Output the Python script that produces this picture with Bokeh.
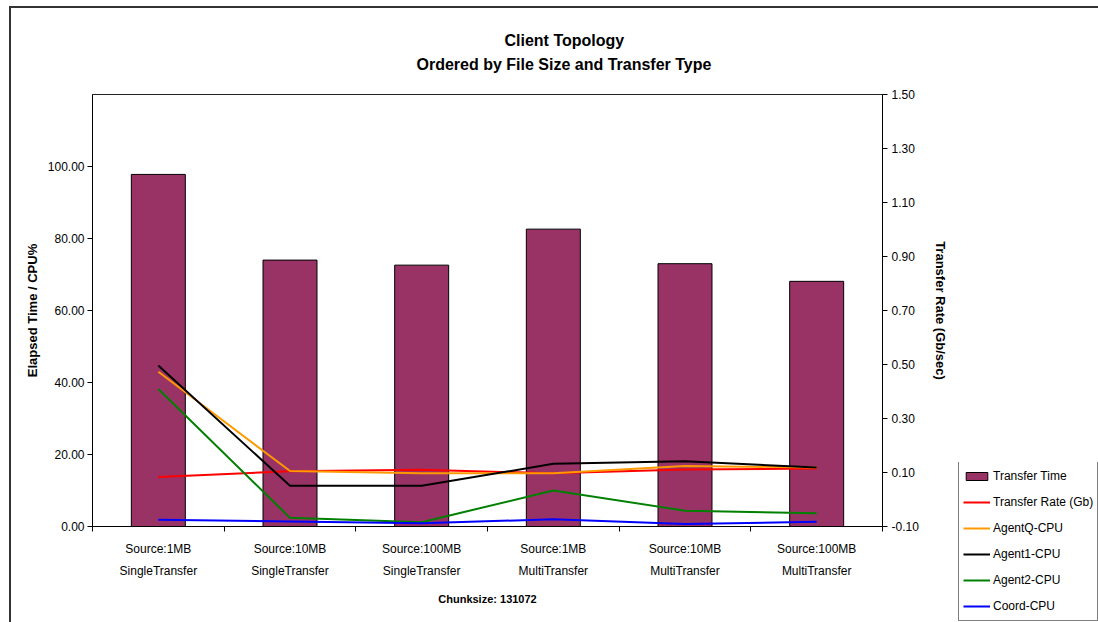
from bokeh.plotting import figure
from bokeh.layouts import row, column
from bokeh.models import (Range1d, LinearAxis, FixedTicker, NumeralTickFormatter,
                          Legend, LegendItem, Title, Spacer)
from bokeh.embed import file_html
from bokeh.resources import INLINE

# ---------------- data ----------------
categories = ["Source:1MB\nSingleTransfer", "Source:10MB\nSingleTransfer", "Source:100MB\nSingleTransfer",
              "Source:1MB\nMultiTransfer", "Source:10MB\nMultiTransfer", "Source:100MB\nMultiTransfer"]
transfer_time = [97.8, 74.0, 72.6, 82.6, 73.0, 68.1]          # left axis
transfer_rate = [0.083, 0.105, 0.110, 0.097, 0.111, 0.115]    # right axis (Gb/sec)
agentq_cpu = [43.0, 15.4, 14.8, 14.8, 16.8, 16.4]
agent1_cpu = [44.7, 11.3, 11.3, 17.4, 18.1, 16.4]
agent2_cpu = [38.2, 2.4, 1.2, 10.0, 4.4, 3.7]
coord_cpu = [1.9, 1.4, 0.9, 2.0, 0.7, 1.3]
left_ticks = [0, 20, 40, 60, 80, 100]
right_ticks = [-0.1, 0.1, 0.3, 0.5, 0.7, 0.9, 1.1, 1.3, 1.5]
series_names = ["Transfer Time", "Transfer Rate (Gb)", "AgentQ-CPU", "Agent1-CPU", "Agent2-CPU", "Coord-CPU"]

FONT = "Liberation Sans"
BAR_COLOR = "#993366"
LINE_COLORS = ["#FF0000", "#FF9900", "#000000", "#008000", "#0000FF"]
n = len(categories)
centers = [i + 0.5 for i in range(n)]
bounds = [i for i in range(n + 1)]

p = figure(width=939, height=614, output_backend="svg", toolbar_location=None,
           x_range=Range1d(0, n), y_range=Range1d(0, 120),
           min_border_left=81, min_border_right=64, min_border_top=86, min_border_bottom=96,
           x_axis_type=None, y_axis_type=None)
p.extra_y_ranges = {"rate": Range1d(-0.1, 1.5)}
p.xgrid.visible = False
p.ygrid.visible = False
p.outline_line_color = "#222222"
p.outline_line_width = 1
p.background_fill_color = "white"
p.border_fill_color = "white"

# bottom axis
xaxis = LinearAxis(ticker=FixedTicker(ticks=centers, minor_ticks=bounds),
                   major_label_overrides={c: lab for c, lab in zip(centers, categories)},
                   axis_label="Chunksize: 131072")
xaxis.major_tick_line_color = None
xaxis.major_tick_out = 5
xaxis.major_tick_in = 0
xaxis.minor_tick_out = 5
xaxis.minor_tick_in = 0
xaxis.minor_tick_line_color = "black"
xaxis.axis_line_color = "black"
xaxis.major_label_text_font = FONT
xaxis.major_label_text_font_size = "12px"
xaxis.major_label_text_color = "black"
xaxis.major_label_text_line_height = 1.6
xaxis.major_label_standoff = 10
xaxis.axis_label_text_font = FONT
xaxis.axis_label_text_font_size = "11px"
xaxis.axis_label_text_font_style = "bold"
xaxis.axis_label_text_color = "black"
xaxis.axis_label_standoff = 12
p.add_layout(xaxis, "below")

# left axis
yaxis = LinearAxis(ticker=FixedTicker(ticks=left_ticks), formatter=NumeralTickFormatter(format="0.00"),
                   axis_label="Elapsed Time / CPU%")
yaxis.major_tick_out = 5
yaxis.major_tick_in = 0
yaxis.minor_tick_line_color = None
yaxis.axis_line_color = "black"
yaxis.major_tick_line_color = "black"
yaxis.major_label_text_font = FONT
yaxis.major_label_text_font_size = "12px"
yaxis.major_label_text_color = "black"
yaxis.major_label_standoff = 3
yaxis.axis_label_text_font = FONT
yaxis.axis_label_text_font_size = "13px"
yaxis.axis_label_text_font_style = "bold"
yaxis.axis_label_text_color = "black"
yaxis.axis_label_standoff = 5
p.add_layout(yaxis, "left")

# right axis
raxis = LinearAxis(y_range_name="rate", ticker=FixedTicker(ticks=right_ticks),
                   formatter=NumeralTickFormatter(format="0.00"),
                   axis_label="Transfer Rate (Gb/sec)")
raxis.major_tick_out = 5
raxis.major_tick_in = 0
raxis.minor_tick_line_color = None
raxis.axis_line_color = "black"
raxis.major_tick_line_color = "black"
raxis.major_label_text_font = FONT
raxis.major_label_text_font_size = "12px"
raxis.major_label_text_color = "black"
raxis.major_label_standoff = 4
raxis.axis_label_text_font = FONT
raxis.axis_label_text_font_size = "13px"
raxis.axis_label_text_font_style = "bold"
raxis.axis_label_text_color = "black"
raxis.axis_label_standoff = 11
p.add_layout(raxis, "right")

# glyphs
p.vbar(x=centers, top=transfer_time, width=0.41, fill_color=BAR_COLOR, line_color="black", line_width=1)
p.line(centers, transfer_rate, y_range_name="rate", line_color=LINE_COLORS[0], line_width=2)
p.line(centers, agentq_cpu, line_color=LINE_COLORS[1], line_width=2)
p.line(centers, agent1_cpu, line_color=LINE_COLORS[2], line_width=2)
p.line(centers, agent2_cpu, line_color=LINE_COLORS[3], line_width=2)
p.line(centers, coord_cpu, line_color=LINE_COLORS[4], line_width=2)

# titles (first added sits closest to the plot area)
spacer_title = Title(text=" ", standoff=7, text_font=FONT, text_font_size="10px")
sub = Title(text="Ordered by File Size and Transfer Type", align="left", offset=324, standoff=4,
            text_font=FONT, text_font_size="16px", text_font_style="bold", text_color="black")
main = Title(text="Client Topology", align="left", offset=412, standoff=6,
             text_font=FONT, text_font_size="16px", text_font_style="bold", text_color="black")
p.add_layout(spacer_title, "above")
p.add_layout(sub, "above")
p.add_layout(main, "above")

# ---------------- legend panel (separate canvas at the lower right) ----------------
pl = figure(width=148, height=160, output_backend="svg", toolbar_location=None,
            x_range=Range1d(0, n), y_range=Range1d(0, 120),
            min_border=0, x_axis_type=None, y_axis_type=None)
pl.xgrid.visible = False
pl.ygrid.visible = False
pl.outline_line_color = None
pl.background_fill_color = "white"
pl.border_fill_color = "white"
lb = pl.vbar(x=centers, top=transfer_time, width=0.41, fill_color=BAR_COLOR, line_color="black",
             line_width=1, visible=False)
lines = [pl.line(centers, ys, line_color=c, line_width=2, visible=False)
         for ys, c in zip([agentq_cpu, agentq_cpu, agent1_cpu, agent2_cpu, coord_cpu], LINE_COLORS)]
legend = Legend(items=[LegendItem(label=nm, renderers=[r]) for nm, r in zip(series_names, [lb] + lines)],
                location=(8, 1))
legend.label_text_font = FONT
legend.label_text_font_size = "12px"
legend.label_text_color = "black"
legend.glyph_width = 27
legend.glyph_height = 10
legend.label_height = 20
legend.spacing = 6
legend.padding = 4
legend.margin = 0
legend.label_standoff = 3
legend.border_line_color = "black"
legend.border_line_width = 1
legend.background_fill_color = "white"
legend.background_fill_alpha = 1
pl.add_layout(legend)

right_col = column(Spacer(width=148, height=454), pl, spacing=0)
layout = row(p, right_col, spacing=0)
layout.styles = {"margin-left": "9px", "margin-top": "6px",
                 "border-left": "2px solid #333333", "border-top": "2px solid #333333"}

open("out.html", "w").write(file_html(layout, INLINE))
